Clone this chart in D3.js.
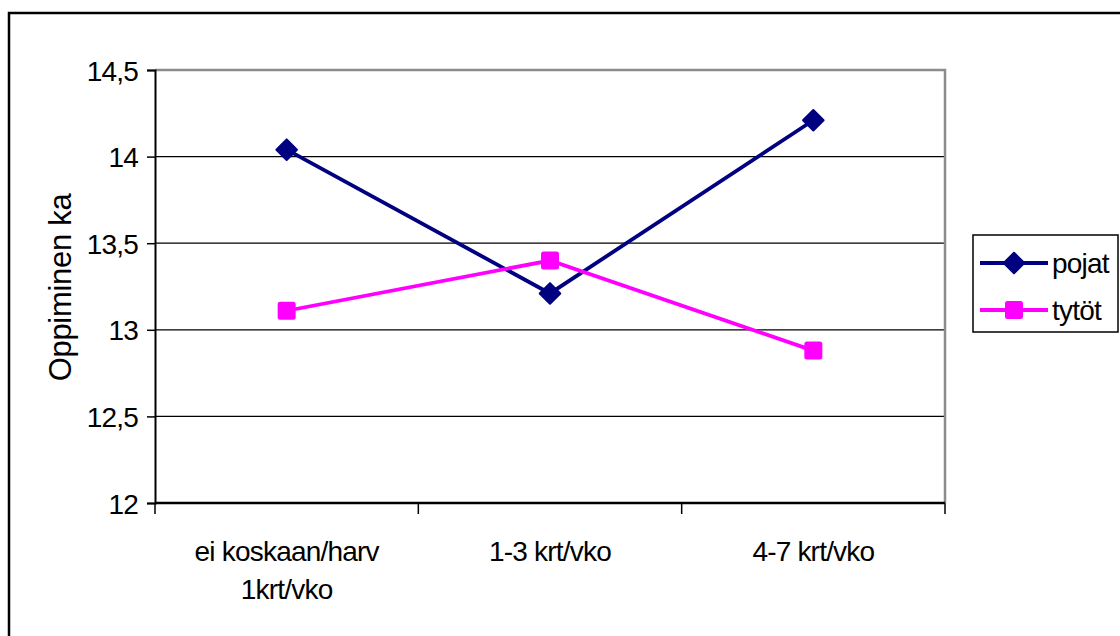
<!DOCTYPE html>
<html>
<head>
<meta charset="utf-8">
<script src="https://cdn.jsdelivr.net/npm/d3@7"></script>
<style>
  html, body { margin: 0; padding: 0; background: #fff; }
  svg { display: block; }
  text { font-family: "Liberation Sans", Arial, sans-serif; fill: #000; }
</style>
</head>
<body>
<script>
// Categories along the x axis (each may wrap to two lines)
const categories = [["ei koskaan/harv", "1krt/vko"], ["1-3 krt/vko"], ["4-7 krt/vko"]];
const categoryKeys = ["ei koskaan/harv 1krt/vko", "1-3 krt/vko", "4-7 krt/vko"];
// Mean learning score per group
const pojat = [14.04, 13.21, 14.21];
const tytot = [13.11, 13.40, 12.88];
const seriesNames = ["pojat", "tytöt"];
const yTicks = [12, 12.5, 13, 13.5, 14, 14.5];
const yTitle = "Oppiminen ka";

const W = 1120, H = 636;
const plot = { left: 155, top: 70, right: 945, bottom: 503 };
const FS = 28, LS = -0.8;

const svg = d3.select("body").append("svg").attr("width", W).attr("height", H);

// Outer chart frame
svg.append("rect")
  .attr("x", 9).attr("y", 13).attr("width", 1200).attr("height", 700)
  .attr("fill", "none").attr("stroke", "#000").attr("stroke-width", 2.5);

const x = d3.scaleBand().domain(categoryKeys).range([plot.left, plot.right]).padding(0);
const y = d3.scaleLinear().domain([12, 14.5]).range([plot.bottom, plot.top]);

// Gridlines
svg.append("g").selectAll("line").data(yTicks.filter(t => t > 12 && t < 14.5)).join("line")
  .attr("x1", plot.left).attr("x2", plot.right)
  .attr("y1", d => y(d)).attr("y2", d => y(d))
  .attr("stroke", "#000").attr("stroke-width", 1.3);

// Plot area border (top and right, gray)
svg.append("path")
  .attr("d", `M${plot.left},${plot.top}H${plot.right}V${plot.bottom}`)
  .attr("fill", "none").attr("stroke", "#8c8c8c").attr("stroke-width", 2.5);

// Y axis
const yAxis = d3.axisLeft(y).tickValues(yTicks).tickSize(8).tickPadding(9)
  .tickFormat(d => String(d).replace(".", ","));
const gy = svg.append("g").attr("transform", `translate(${plot.left},0)`).call(yAxis);
gy.select(".domain").attr("stroke", "#000").attr("stroke-width", 2);
gy.selectAll(".tick line").attr("stroke", "#000").attr("stroke-width", 1.5);
gy.selectAll(".tick text").attr("font-size", FS).attr("letter-spacing", LS)
  .attr("font-family", "Liberation Sans, Arial, sans-serif")
  .attr("dy", "0.36em");

// X axis: ticks on category boundaries
const boundaries = [plot.left, ...categoryKeys.map(k => x(k) + x.bandwidth())];
const gx = svg.append("g");
gx.append("line").attr("x1", plot.left).attr("x2", plot.right)
  .attr("y1", plot.bottom).attr("y2", plot.bottom)
  .attr("stroke", "#000").attr("stroke-width", 2.5);
gx.selectAll("line.tk").data(boundaries).join("line").attr("class", "tk")
  .attr("x1", d => d).attr("x2", d => d)
  .attr("y1", plot.bottom).attr("y2", plot.bottom + 11)
  .attr("stroke", "#000").attr("stroke-width", 1.5);
const labels = gx.selectAll("text.cat").data(categories).join("text").attr("class", "cat")
  .attr("x", (d, i) => x(categoryKeys[i]) + x.bandwidth() / 2)
  .attr("y", 561)
  .attr("text-anchor", "middle").attr("font-size", FS).attr("letter-spacing", LS);
labels.selectAll("tspan").data(d => d).join("tspan")
  .attr("x", function () { return d3.select(this.parentNode).attr("x"); })
  .attr("dy", (d, i) => i === 0 ? 0 : 38)
  .text(d => d);

// Y axis title
svg.append("text")
  .attr("transform", `translate(71,${(plot.top + plot.bottom) / 2 + 1}) rotate(-90)`)
  .attr("text-anchor", "middle").attr("font-size", 31).attr("letter-spacing", -0.3)
  .text(yTitle);

const colors = { pojat: "#000080", "tytöt": "#ff00ff" };
const diamond = d3.symbol().type(d3.symbolDiamond2).size(270);

const line = d3.line().x((d, i) => x(categoryKeys[i]) + x.bandwidth() / 2).y(d => y(d));

// pojat series
svg.append("path").datum(pojat).attr("d", line)
  .attr("fill", "none").attr("stroke", colors.pojat).attr("stroke-width", 3.8);
svg.append("g").selectAll("path").data(pojat).join("path")
  .attr("transform", (d, i) => `translate(${x(categoryKeys[i]) + x.bandwidth() / 2},${y(d)})`)
  .attr("d", diamond).attr("fill", colors.pojat)
  .attr("stroke", colors.pojat).attr("stroke-width", 2).attr("stroke-linejoin", "round");

// tytöt series
svg.append("path").datum(tytot).attr("d", line)
  .attr("fill", "none").attr("stroke", colors["tytöt"]).attr("stroke-width", 3.8);
svg.append("g").selectAll("rect").data(tytot).join("rect")
  .attr("x", (d, i) => x(categoryKeys[i]) + x.bandwidth() / 2 - 8)
  .attr("y", d => y(d) - 8)
  .attr("width", 16).attr("height", 16).attr("rx", 1.5)
  .attr("fill", colors["tytöt"]).attr("stroke", colors["tytöt"]).attr("stroke-width", 2);

// Legend
const lg = svg.append("g");
lg.append("rect").attr("x", 973).attr("y", 235).attr("width", 145).attr("height", 97)
  .attr("fill", "#fff").attr("stroke", "#000").attr("stroke-width", 1.5);
const items = lg.selectAll("g.item").data(seriesNames).join("g").attr("class", "item")
  .attr("transform", (d, i) => `translate(0,${263 + i * 47})`);
items.append("line").attr("x1", 980).attr("x2", 1048).attr("y1", 0).attr("y2", 0)
  .attr("stroke", d => colors[d]).attr("stroke-width", 3.8);
items.filter(d => d === "pojat").append("path")
  .attr("transform", "translate(1014,0)").attr("d", diamond)
  .attr("fill", colors.pojat).attr("stroke", colors.pojat).attr("stroke-width", 2).attr("stroke-linejoin", "round");
items.filter(d => d === "tytöt").append("rect")
  .attr("x", 1006).attr("y", -8).attr("width", 16).attr("height", 16).attr("rx", 1.5)
  .attr("fill", colors["tytöt"]).attr("stroke", colors["tytöt"]).attr("stroke-width", 2);
items.append("text").attr("x", 1052).attr("y", 0).attr("dy", "0.36em")
  .attr("font-size", FS).attr("letter-spacing", LS).text(d => d);
</script>
</body>
</html>
